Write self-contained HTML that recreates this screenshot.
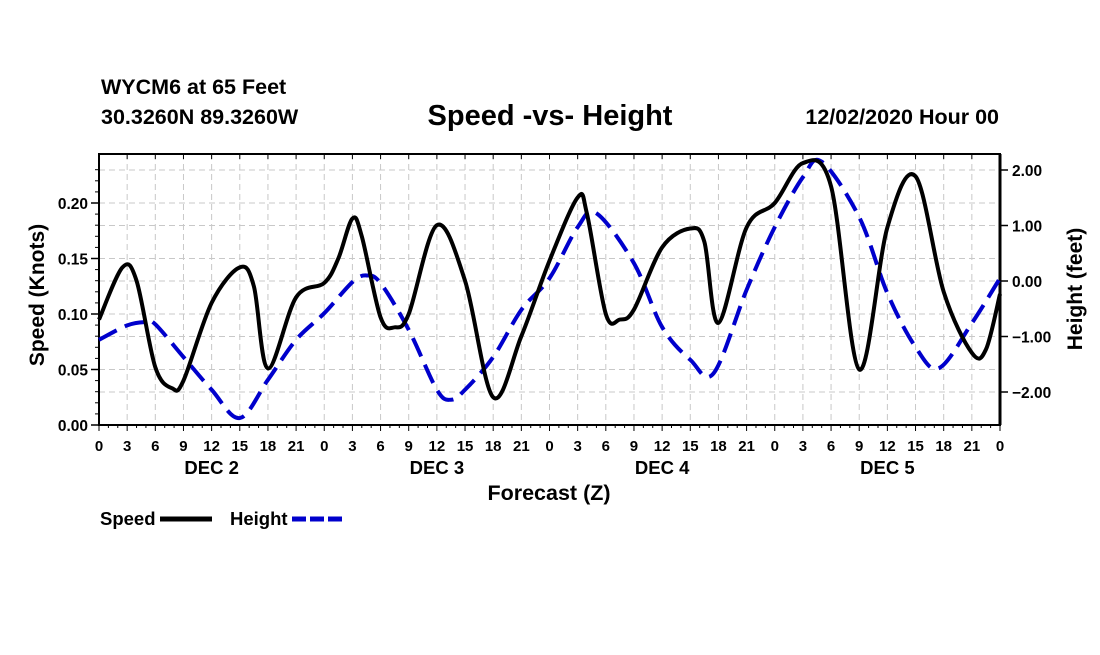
<!DOCTYPE html>
<html><head><meta charset="utf-8"><style>
body{margin:0;background:#fff;width:1100px;height:650px;overflow:hidden}
svg text{font-family:"Liberation Sans",sans-serif;font-weight:bold;fill:#000}
</style></head><body>
<svg id="chart" width="1100" height="650" xmlns="http://www.w3.org/2000/svg">
<text x="101" y="94" font-size="21.5">WYCM6 at 65 Feet</text>
<text x="101" y="124" font-size="21.5">30.3260N 89.3260W</text>
<text x="550" y="125" font-size="29" text-anchor="middle">Speed -vs- Height</text>
<text x="999" y="124" font-size="21.5" text-anchor="end">12/02/2020 Hour 00</text>
<g id="grid"></g>
<g id="axes"></g>
<g id="series"></g>
<text transform="translate(44,295) rotate(-90)" font-size="21" text-anchor="middle">Speed (Knots)</text>
<text transform="translate(1082,289) rotate(-90)" font-size="21" text-anchor="middle">Height (feet)</text>
<text x="549" y="500" font-size="21.5" text-anchor="middle">Forecast (Z)</text>
<g><text x="100" y="525" font-size="18.5">Speed</text><line x1="160" y1="519" x2="212" y2="519" stroke="#000" stroke-width="5"/></g>
<g><text x="230" y="525" font-size="18.5">Height</text><line x1="292" y1="519" x2="342" y2="519" stroke="#00c" stroke-width="5" stroke-dasharray="14,4"/></g>
</svg>
<script>
const speedHours=[0,2.5,4,6,7.8,9,12,15,16.5,18,21,24,25.5,27,28,30,31.5,33,36,39,42,45,48,51,52,54,55.5,57,60,63,64.5,66,69,72,75,78,81,84,87,90,93,94.5,96];
const speedValues=[0.095,0.142,0.13,0.052,0.033,0.040,0.11,0.142,0.125,0.051,0.115,0.128,0.15,0.186,0.17,0.097,0.088,0.10,0.180,0.13,0.025,0.08,0.148,0.205,0.19,0.10,0.095,0.104,0.16,0.177,0.165,0.092,0.178,0.200,0.236,0.215,0.05,0.178,0.224,0.12,0.065,0.068,0.118];
const heightHours=[0,3,5,6,9,12,15,18,21,24,27,28.5,30,33,36,37.5,39,42,45,48,51,53,57,60,63,65.5,69,72,75,77,81,84,87,89.5,93,96];
const heightValues=[-1.06,-0.8,-0.74,-0.78,-1.37,-1.96,-2.47,-1.78,-1.06,-0.58,-0.02,0.1,-0.04,-0.88,-1.96,-2.14,-1.96,-1.37,-0.52,0.05,0.97,1.22,0.32,-0.83,-1.42,-1.66,-0.16,0.97,1.87,2.15,1.15,-0.22,-1.19,-1.57,-0.76,0.05];
const xTickLabels=["0","3","6","9","12","15","18","21","0","3","6","9","12","15","18","21","0","3","6","9","12","15","18","21","0","3","6","9","12","15","18","21","0"];
const dayLabels=["DEC 2","DEC 3","DEC 4","DEC 5"];
const leftTicks=[0,0.05,0.10,0.15,0.20];
const rightTicks=[2,1,0,-1,-2];
const L=99,R=1000,T=154,B=425;
const x=h=>L+(R-L)*h/96;
const yS=v=>B-v*1110;
const yH=v=>281-v*55.5;
const NS="http://www.w3.org/2000/svg";
function mk(tag,attrs,parent){const e=document.createElementNS(NS,tag);for(const k in attrs)e.setAttribute(k,attrs[k]);parent.appendChild(e);return e;}
const grid=document.getElementById('grid'),axes=document.getElementById('axes'),series=document.getElementById('series');
for(let i=1;i<32;i++){const l=mk('line',{x1:x(i*3),x2:x(i*3),y1:T,y2:B,stroke:'#c8c8c8','stroke-dasharray':'6,4'},grid);

}
leftTicks.slice(1).forEach(v=>{const l=mk('line',{x1:L,x2:R,y1:yS(v),y2:yS(v),stroke:'#c8c8c8','stroke-dasharray':'6,4'},grid);

});
rightTicks.forEach(v=>{const l=mk('line',{x1:L,x2:R,y1:yH(v),y2:yH(v),stroke:'#c8c8c8','stroke-dasharray':'6,4'},grid);

});
mk('rect',{x:L,y:T,width:R-L,height:B-T,fill:'none',stroke:'#000','stroke-width':2},axes);
mk('line',{x1:R,x2:R,y1:T,y2:B,stroke:'#000','stroke-width':3},axes);
for(let v=0;v<=0.24;v+=0.01){mk('line',{x1:L-4,x2:L,y1:yS(v),y2:yS(v),stroke:'#000'},axes);}
leftTicks.forEach(v=>{mk('line',{x1:L-8,x2:L,y1:yS(v),y2:yS(v),stroke:'#000','stroke-width':1.5},axes);
const t=mk('text',{x:L-11,y:yS(v)+6,'font-size':15.5,'text-anchor':'end'},axes);t.textContent=v.toFixed(2);

});
rightTicks.forEach(v=>{mk('line',{x1:R,x2:R+8,y1:yH(v),y2:yH(v),stroke:'#000','stroke-width':1.5},axes);
const t=mk('text',{x:R+12,y:yH(v)+6,'font-size':15.5},axes);
if(v<0)t.textContent='\u2212'+Math.abs(v).toFixed(2);else t.textContent=v.toFixed(2);

});
for(let h=0;h<=96;h++){mk('line',{x1:x(h),x2:x(h),y1:B,y2:B+(h%3?3:6),stroke:'#000'},axes);if(h%3==0)mk('line',{x1:x(h),x2:x(h),y1:T,y2:T+5,stroke:'#000'},axes);}
xTickLabels.forEach((s,i)=>{const t=mk('text',{x:x(i*3),y:451,'font-size':15,'text-anchor':'middle'},axes);t.textContent=s;

});
dayLabels.forEach((s,i)=>{const t=mk('text',{x:x(12+24*i),y:474,'font-size':18.5,'text-anchor':'middle'},axes);t.textContent=s;

});
function smooth(pts){let d='M'+pts[0][0]+','+pts[0][1];for(let i=0;i<pts.length-1;i++){const p0=pts[i-1]||pts[i],p1=pts[i],p2=pts[i+1],p3=pts[i+2]||p2;
d+=' C'+(p1[0]+(p2[0]-p0[0])/6)+','+(p1[1]+(p2[1]-p0[1])/6)+' '+(p2[0]-(p3[0]-p1[0])/6)+','+(p2[1]-(p3[1]-p1[1])/6)+' '+p2[0]+','+p2[1];}return d;}
const hp=mk('path',{d:smooth(heightHours.map((h,i)=>[x(h),yH(heightValues[i])])),fill:'none',stroke:'#0000cc','stroke-width':4,'stroke-dasharray':'20,9'},series);


const sp=mk('path',{d:smooth(speedHours.map((h,i)=>[x(h),yS(speedValues[i])])),fill:'none',stroke:'#000','stroke-width':4,'stroke-linejoin':'round'},series);


</script>
</body></html>
